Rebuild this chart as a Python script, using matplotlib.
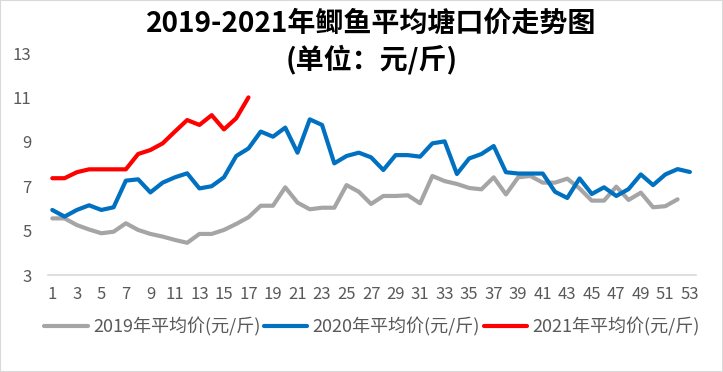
import matplotlib
matplotlib.use("Agg")
import matplotlib.pyplot as plt
from matplotlib.patches import Rectangle

plt.rcParams['font.family'] = ['Noto Sans CJK SC', 'DejaVu Sans']

title_line1 = "2019-2021年鲫鱼平均塘口价走势图"
title_line2 = "(单位：元/斤)"
series_names = ["2019年平均价(元/斤)", "2020年平均价(元/斤)", "2021年平均价(元/斤)"]
series_colors = ["#A5A5A5", "#0070C0", "#FF0000"]

y2019 = [5.55, 5.55, 5.25, 5.05, 4.88, 4.95, 5.33, 5.03, 4.85, 4.73,
         4.58, 4.45, 4.85, 4.85, 5.03, 5.30, 5.60, 6.12, 6.12, 6.95,
         6.26, 5.96, 6.03, 6.03, 7.05, 6.75, 6.20, 6.56, 6.56, 6.59,
         6.23, 7.46, 7.23, 7.10, 6.92, 6.86, 7.40, 6.63, 7.40, 7.46,
         7.16, 7.16, 7.34, 6.90, 6.35, 6.35, 6.98, 6.38, 6.71, 6.05,
         6.10, 6.41]
y2020 = [5.93, 5.63, 5.93, 6.14, 5.93, 6.05, 7.25, 7.31, 6.72, 7.16,
         7.40, 7.58, 6.90, 7.00, 7.40, 8.36, 8.70, 9.46, 9.23, 9.64,
         8.51, 10.01, 9.76, 8.03, 8.36, 8.51, 8.30, 7.73, 8.40, 8.40,
         8.33, 8.93, 9.02, 7.55, 8.25, 8.45, 8.81, 7.63, 7.57, 7.57,
         7.57, 6.75, 6.47, 7.35, 6.65, 6.95, 6.56, 6.87, 7.53, 7.05,
         7.53, 7.77, 7.64]
y2021 = [7.36, 7.36, 7.63, 7.76, 7.76, 7.76, 7.76, 8.45, 8.63, 8.93,
         9.46, 9.98, 9.76, 10.20, 9.56, 10.06, 11.00]
x_ticks = list(range(1, 54, 2))
y_ticks = [3, 5, 7, 9, 11, 13]

W, H = 723, 372
fig = plt.figure(figsize=(W / 100, H / 100), dpi=100)
fig.patches.append(Rectangle((0, 0), 1, 1, transform=fig.transFigure,
                             fill=False, edgecolor="#D9D9D9", linewidth=1.5))

left, right, top, bottom = 48, 696, 53, 275
ax = fig.add_axes([left / W, 1 - bottom / H, (right - left) / W, (bottom - top) / H])

all_series = [y2019, y2020, y2021]
for vals, name, col in zip(all_series, series_names, series_colors):
    ax.plot(range(1, len(vals) + 1), vals, color=col, linewidth=3.0,
            label=name, solid_joinstyle='round', solid_capstyle='round')

ax.set_xlim(0.65, 53.5)
ax.set_ylim(3, 13)
ax.set_xticks(x_ticks)
ax.set_xticklabels([str(t) for t in x_ticks])
ax.set_yticks(y_ticks)
ax.tick_params(axis='both', length=0, labelsize=12, colors="#595959")
ax.tick_params(axis='x', pad=8)
ax.tick_params(axis='y', pad=12)
for s in ['top', 'right', 'left']:
    ax.spines[s].set_visible(False)
ax.spines['bottom'].set_color("#D9D9D9")
ax.spines['bottom'].set_linewidth(1.2)

fig.text(371 / W, 1 - 24 / H, title_line1, ha='center', va='center',
         fontsize=20.2, fontweight='bold', color='black')
fig.text(372 / W, 1 - 59 / H, title_line2, ha='center', va='center',
         fontsize=20.2, fontweight='bold', color='black')

leg = fig.legend(loc='center', bbox_to_anchor=(372 / W, 1 - 327 / H), ncol=3,
                 frameon=False, fontsize=13, handlelength=2.4, handletextpad=0.3,
                 columnspacing=0.2, labelcolor="#595959")

fig.savefig("out.png", dpi=100)
